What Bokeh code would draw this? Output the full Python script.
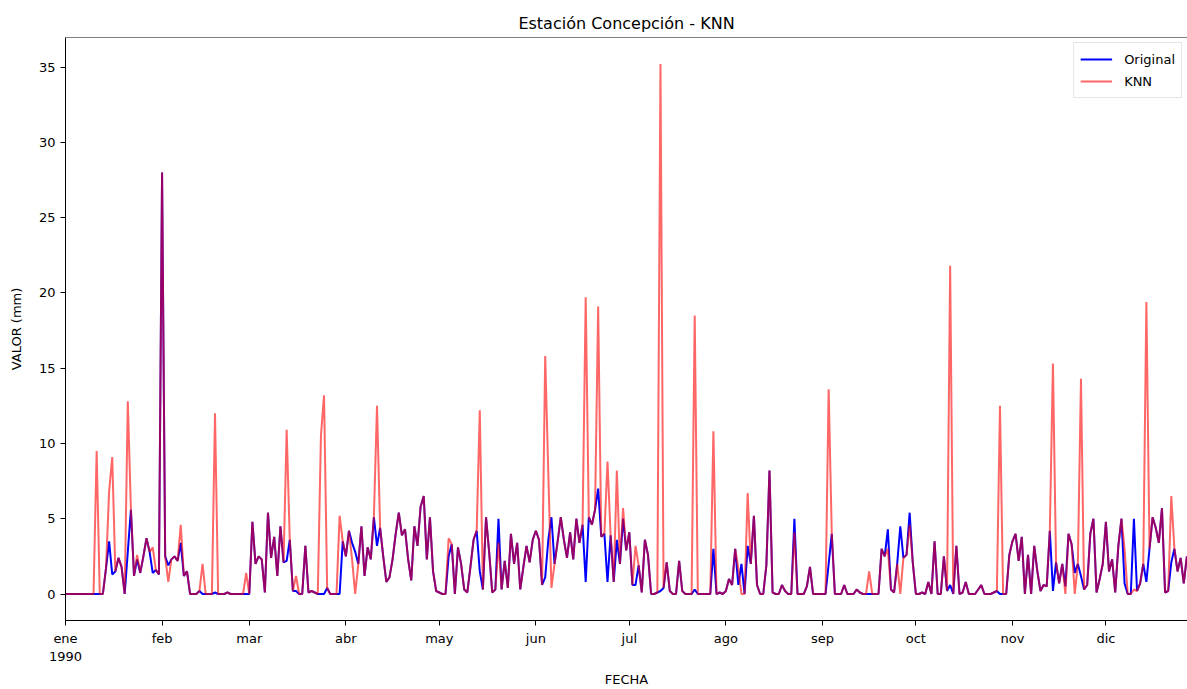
import numpy as np
from bokeh.plotting import figure
from bokeh.models import Range1d, FixedTicker, Span, Legend, LegendItem
from bokeh.embed import file_html
from bokeh.resources import INLINE

# Daily precipitation, 1990 (original series), by month
jan = [0,0,0,0,0,0,0,0,0,0, 0,0,0,1.7,3.5,1.3,1.5,2.4,1.8,0, 2.8,5.6,1.2,2.3,1.4,2.5,3.7,2.8,1.4,1.6, 1.3]
feb = [28.0,2.5,1.9,2.3,2.5,2.2,3.4,1.2,1.5,0, 0,0,0.2,0,0,0,0,0.1,0,0, 0,0.1,0,0,0,0,0,0]
mar = [0,4.8,2.0,2.5,2.3,0.1,5.4,2.4,3.8,1.2, 4.5,2.1,2.2,3.6,0.2,0.2,0,0,3.2,0.1, 0.2,0.1,0,0,0,0.4,0,0,0,0, 3.5]
apr = [2.5,4.2,3.4,2.8,2.0,4.5,1.2,3.1,2.3,5.1, 3.2,4.4,2.5,0.8,1.1,2.3,4.0,5.4,3.9,4.3, 2.3,0.9,4.5,3.2,5.8,6.5,2.3,5.1,1.5,0.2]
may = [0.1,0,0,2.5,3.3,0,3.1,2.0,0.3,0.1, 1.8,3.6,4.2,1.5,0.3,5.1,2.8,0.1,0.3,5.0, 0.3,2.2,0.4,4.0,2.0,3.4,0.3,1.8,3.2,2.1, 3.6]
jun = [4.2,3.6,0.6,1.1,3.6,5.1,2.0,3.5,5.1,3.6, 2.4,4.1,2.3,5.0,3.4,4.6,0.8,5.1,4.6,5.6, 7.0,3.8,4.0,0.8,3.9,0.8,3.6,2.0,5.0,2.9]
jul = [4.1,0.6,0.6,1.9,0.1,3.6,2.6,0,0,0.1, 0.2,0.4,2.1,0.2,0,0,2.2,0.2,0,0, 0,0.3,0,0,0,0,0,3.0,0,0.1, 0]
aug = [0.2,1.0,0.6,3.0,0.6,2.0,0,3.2,2.0,5.2, 0.6,0,0,1.9,8.2,0.1,0,0,0.6,0.2, 0,0,5.0,0,0,0,0.5,1.8,0,0, 0]
sep = [0,0,2.0,4.0,0,0,0,0.6,0,0, 0,0.3,0.1,0,0,0,0,0,0,3.0, 2.5,4.3,0.3,0.1,2.0,4.5,2.4,2.6,5.4,2.1]
oct_ = [0,0,0.1,0,0.8,0,3.5,0,0,2.5, 0.2,0.6,0,3.2,0,0.1,0.8,0,0,0, 0.3,0.6,0,0,0,0.1,0.2,0,0,0, 2.6]
nov = [3.5,4.0,2.2,3.8,0,2.6,0,3.2,1.5,0.2, 0.6,0.5,4.2,0.2,2.1,0.7,2.0,0.5,4.0,3.3, 1.4,2.0,1.2,0.3,0.6,4.0,5.0,0.1,1.0,2.0]
dec = [4.8,1.5,2.3,0.1,3.2,5.0,0.7,0,0,5.0, 0.2,0.7,2.0,0.8,3.0,5.1,4.4,3.4,5.7,0.1, 0.2,2.1,3.0,1.5,2.4,0.7,2.5,1.2,0.4,0, 0]

# KNN series: days (0-based day of year) where it differs from the original
knn_days = [10, 14, 15, 20, 23, 28, 33, 37, 44, 48, 58, 71, 74, 82, 83, 88, 92, 93, 100,
            123, 133, 139, 154, 155, 156, 167, 171, 174, 177, 179, 183, 191, 202, 208,
            216, 217, 219, 234, 245, 258, 264, 268, 271, 284, 300, 317, 321, 324, 326,
            340, 343, 347, 355]
knn_vals = [9.5, 6.8, 9.1, 12.8, 2.6, 3.1, 0.8, 4.6, 2.0, 12.0, 1.4, 10.9, 1.2, 10.5, 13.2, 5.2, 2.3, 0.0, 12.5,
            3.7, 12.2, 3.4, 15.8, 8.0, 0.4, 19.7, 19.1, 8.8, 8.2, 5.7, 3.2, 35.2, 18.5, 10.8,
            1.7, 0.0, 6.7, 4.1, 13.6, 1.5, 3.0, 0.0, 4.6, 21.8, 12.5, 15.3, 0.0, 0.0, 14.3,
            3.0, 0.3, 19.4, 6.5]

month_starts = [0, 31, 59, 90, 120, 151, 181, 212, 243, 273, 304, 334]
month_labels = ["ene\n1990", "feb", "mar", "abr", "may", "jun", "jul", "ago", "sep", "oct", "nov", "dic"]
y_ticks = [0, 5, 10, 15, 20, 25, 30, 35]

original = np.array(jan + feb + mar + apr + may + jun + jul + aug + sep + oct_ + nov + dec, dtype=float)
knn = original.copy()
knn[knn_days] = knn_vals
days = np.arange(len(original))

FONT = "DejaVu Sans"

p = figure(width=1187, height=689, output_backend="svg", toolbar_location=None,
           x_range=Range1d(0, 360.2), y_range=Range1d(-1.76, 36.96),
           min_border_left=65, min_border_right=0, min_border_top=37, min_border_bottom=64,
           title="Estación Concepción - KNN")
p.title.align = "center"
p.title.text_font = FONT
p.title.text_font_size = "16px"
p.title.text_font_style = "normal"
p.title.text_color = "black"

p.grid.visible = False
p.outline_line_color = None
p.background_fill_color = "white"
p.border_fill_color = "white"

r1 = p.line(days, original, line_color="#0000ff", line_width=2)
r2 = p.line(days, knn, line_color="#ff0000", line_alpha=0.6, line_width=2)

# top border of the axes box
p.add_layout(Span(location=36.96, dimension="width", line_color="black", line_width=1))

for ax in (p.xaxis[0], p.yaxis[0]):
    ax.axis_line_color = "black"
    ax.major_tick_line_color = "black"
    ax.major_tick_out = 5
    ax.major_tick_in = 0
    ax.minor_tick_line_color = None
    ax.major_label_text_font = FONT
    ax.major_label_text_font_size = "13px"
    ax.major_label_text_color = "black"
    ax.axis_label_text_font = FONT
    ax.axis_label_text_font_size = "13px"
    ax.axis_label_text_font_style = "normal"
    ax.axis_label_text_color = "black"

p.xaxis.ticker = FixedTicker(ticks=month_starts)
p.xaxis.major_label_overrides = {m: l for m, l in zip(month_starts, month_labels)}
p.xaxis.axis_label = "FECHA"
p.yaxis.ticker = FixedTicker(ticks=y_ticks)
p.yaxis.axis_label = "VALOR (mm)"
p.yaxis.axis_label_standoff = 12

legend = Legend(items=[LegendItem(label="Original", renderers=[r1]),
                       LegendItem(label="KNN", renderers=[r2])],
                location="top_right")
legend.label_text_font = FONT
legend.label_text_font_size = "13px"
legend.label_text_color = "black"
legend.border_line_color = "#cccccc"
legend.border_line_width = 1
legend.background_fill_alpha = 0.8
legend.glyph_width = 32
legend.label_standoff = 12
legend.spacing = 2
legend.padding = 6
legend.margin = 5
p.add_layout(legend)

open("out.html", "w").write(file_html(p, INLINE))
